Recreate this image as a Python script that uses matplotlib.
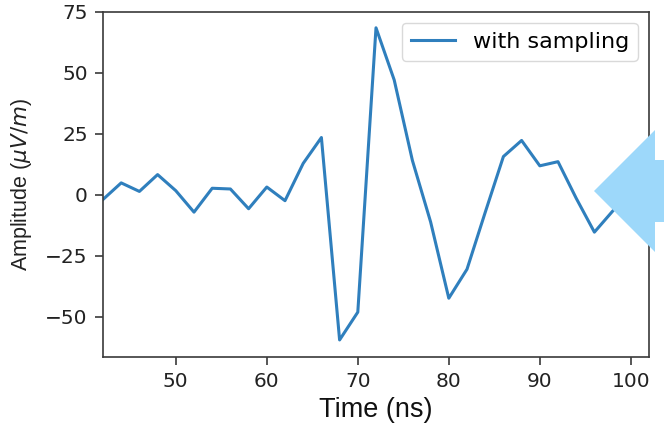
import matplotlib
matplotlib.use("Agg")
import matplotlib.pyplot as plt
from matplotlib.patches import Polygon

time_ns = [42, 44, 46, 48, 50, 52, 54, 56, 58, 60, 62, 64, 66, 68, 70, 72,
           74, 76, 78, 80, 82, 84, 86, 88, 90, 92, 94, 96, 98, 100, 102]
amplitude = [-2.0, 4.8, 1.3, 8.2, 1.6, -7.2, 2.6, 2.3, -5.8, 3.1, -2.5, 12.8,
             23.4, -59.6, -48.2, 68.4, 47.0, 14.0, -11.2, -42.5, -30.6, -7.3,
             15.6, 22.2, 11.8, 13.5, -1.5, -15.4, -6.8, 1.0, 4.0]
series_label = "with sampling"
x_ticks = [50, 60, 70, 80, 90, 100]
y_ticks = [-50, -25, 0, 25, 50, 75]

W, H = 664, 425
fig = plt.figure(figsize=(W / 100, H / 100), dpi=100)
ax = fig.add_axes([103 / W, 1 - 357 / H, (649 - 103) / W, (357 - 11.7) / H])

ax.plot(time_ns, amplitude, color="#2f7fbd", linewidth=2.2, label=series_label)
ax.set_xlim(42, 102)
ax.set_ylim(-66.6, 74.5)
ax.set_xticks(x_ticks)
ax.set_yticks(y_ticks)

for s in ax.spines.values():
    s.set_linewidth(1.2)
    s.set_color("#3a3a3a")
ax.tick_params(axis="both", labelsize=14.5, length=6, width=1.2,
               color="#3a3a3a", labelcolor="#222222", pad=5)

ax.set_xlabel("Time (ns)", family="Liberation Sans", fontsize=19.5,
              color="#111111", labelpad=4)
ax.set_ylabel(r"Amplitude ($\mu V/m$)", family="Liberation Sans",
              fontsize=15.5, color="#222222", labelpad=8)

leg = ax.legend(loc="upper right", fontsize=16, frameon=True, fancybox=True,
                borderaxespad=0.5)
leg.get_frame().set_edgecolor("#d0d0d0")
leg.get_frame().set_linewidth(1.0)

# decorative light-blue arrow overlay (figure pixel coordinates)
tip_x, cy = 594, 191
base_x = 655
head_h, shaft_h = 61, 31
pts = [(tip_x, cy), (base_x, cy - head_h), (base_x, cy - shaft_h),
       (W + 5, cy - shaft_h), (W + 5, cy + shaft_h), (base_x, cy + shaft_h),
       (base_x, cy + head_h)]
pts = [(x / W, 1 - y / H) for x, y in pts]
arrow = Polygon(pts, closed=True, transform=fig.transFigure,
                facecolor="#9dd8fa", edgecolor="none", zorder=10)
fig.patches.append(arrow)

fig.savefig("out.png", dpi=100)
